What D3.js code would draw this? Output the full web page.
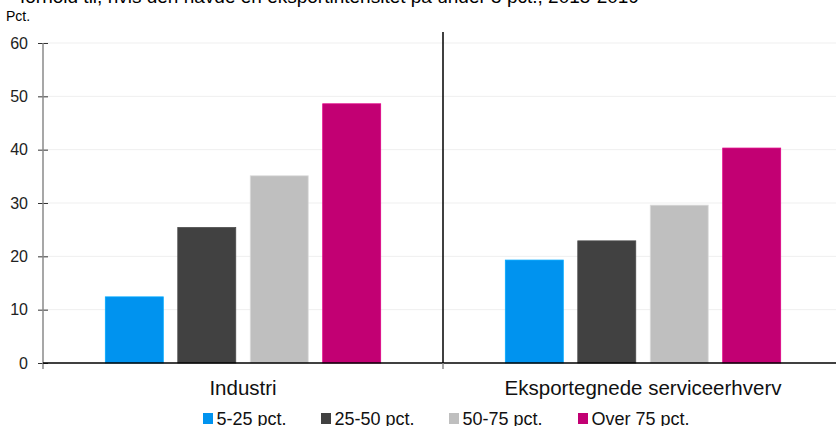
<!DOCTYPE html>
<html>
<head>
<meta charset="utf-8">
<script src="https://cdn.jsdelivr.net/npm/d3@7"></script>
<style>
  html, body { margin: 0; padding: 0; background: #fff; }
  svg { display: block; font-family: "Liberation Sans", Arial, sans-serif; }
</style>
</head>
<body>
<svg id="chart" width="836" height="426"></svg>
<script>
const titleLine = "forhold til, hvis den havde en eksportintensitet på under 5 pct., 2015-2019";
const unitLabel = "Pct.";
const categories = ["Industri", "Eksportegnede serviceerhverv"];
const seriesNames = ["5-25 pct.", "25-50 pct.", "50-75 pct.", "Over 75 pct."];
const seriesColors = ["#0093ef", "#414141", "#bfbfbf", "#c20073"];
const val_5_25 = [12.4, 19.3];
const val_25_50 = [25.4, 22.9];
const val_50_75 = [35.1, 29.6];
const val_over75 = [48.6, 40.3];
const yTicks = [0, 10, 20, 30, 40, 50, 60];

const seriesValues = [val_5_25, val_25_50, val_50_75, val_over75];

(function () {
const svg = d3.select("#chart");
const mLeft = 43, mRight = 843, mTop = 43, mBottom = 363;

const x0 = d3.scaleBand().domain(categories).range([mLeft, mRight]).padding(0);
const x1 = d3.scaleBand().domain(seriesNames).range([0, x0.bandwidth()])
  .paddingInner(0.2).paddingOuter(0.86);
const y = d3.scaleLinear().domain([0, 60]).range([mBottom, mTop]);

// title (partially clipped at top, as in the reference)
svg.append("text").attr("x", 20).attr("y", 3).attr("font-size", 19).attr("fill", "#000")
  .text(titleLine);
svg.append("text").attr("x", 6).attr("y", 21).attr("font-size", 14).attr("fill", "#000")
  .text(unitLabel);

// gridlines
svg.append("g").selectAll("line").data(yTicks.filter(d => d > 0)).join("line")
  .attr("x1", mLeft).attr("x2", 836)
  .attr("y1", d => y(d)).attr("y2", d => y(d))
  .attr("stroke", "#efefef").attr("stroke-width", 1);

// bars
const groups = svg.append("g").selectAll("g").data(categories).join("g")
  .attr("transform", d => `translate(${x0(d)},0)`);
groups.selectAll("rect")
  .data((c, ci) => seriesNames.map((s, si) => ({ s, si, v: seriesValues[si][ci] })))
  .join("rect")
  .attr("x", d => x1(d.s))
  .attr("width", x1.bandwidth())
  .attr("y", d => y(d.v))
  .attr("height", d => y(0) - y(d.v))
  .attr("fill", d => seriesColors[d.si])
  .attr("stroke", d => d3.color(seriesColors[d.si]).brighter(0.4))
  .attr("stroke-width", 0.8);

// y axis
const yAxis = d3.axisLeft(y).tickValues(yTicks).tickSize(0).tickPadding(0);
const yg = svg.append("g").attr("transform", `translate(${mLeft},0)`).call(yAxis);
yg.select(".domain").remove();
yg.selectAll(".tick text").attr("x", -15).attr("font-size", 16)
  .attr("font-family", "Liberation Sans, Arial, sans-serif").attr("fill", "#222");
yg.selectAll(".tick").append("line").attr("x1", -5).attr("x2", 5)
  .attr("stroke", "#333").attr("stroke-width", 1);
svg.append("line").attr("x1", mLeft).attr("x2", mLeft).attr("y1", mTop).attr("y2", mBottom + 6)
  .attr("stroke", "#8a8a8a").attr("stroke-width", 1.5);

// x axis baseline
svg.append("line").attr("x1", mLeft).attr("x2", 836).attr("y1", mBottom).attr("y2", mBottom)
  .attr("stroke", "#000").attr("stroke-width", 1.5);

// category separator
const sepX = x0(categories[1]);
svg.append("line").attr("x1", sepX).attr("x2", sepX)
  .attr("y1", 32).attr("y2", mBottom).attr("stroke", "#000").attr("stroke-width", 1.5);
svg.append("line").attr("x1", sepX).attr("x2", sepX)
  .attr("y1", mBottom).attr("y2", mBottom + 6).attr("stroke", "#8a8a8a").attr("stroke-width", 1.5);

// x labels
const xAxis = d3.axisBottom(x0).tickSize(0).tickPadding(0);
const xg = svg.append("g").attr("transform", `translate(0,${mBottom})`).call(xAxis);
xg.select(".domain").remove();
xg.selectAll(".tick text").attr("y", 32).attr("dy", 0).attr("font-size", 20.5)
  .attr("font-family", "Liberation Sans, Arial, sans-serif").attr("fill", "#111");

// legend
const legendX = [203, 321, 449, 578];
const lg = svg.append("g").selectAll("g").data(seriesNames).join("g")
  .attr("transform", (d, i) => `translate(${legendX[i]},0)`);
lg.append("rect").attr("x", 0).attr("y", 413).attr("width", 10).attr("height", 11)
  .attr("fill", (d, i) => seriesColors[i]);
lg.append("text").attr("x", 13.5).attr("y", 425).attr("font-size", 18).attr("fill", "#111")
  .text(d => d);
})();
</script>
</body>
</html>
